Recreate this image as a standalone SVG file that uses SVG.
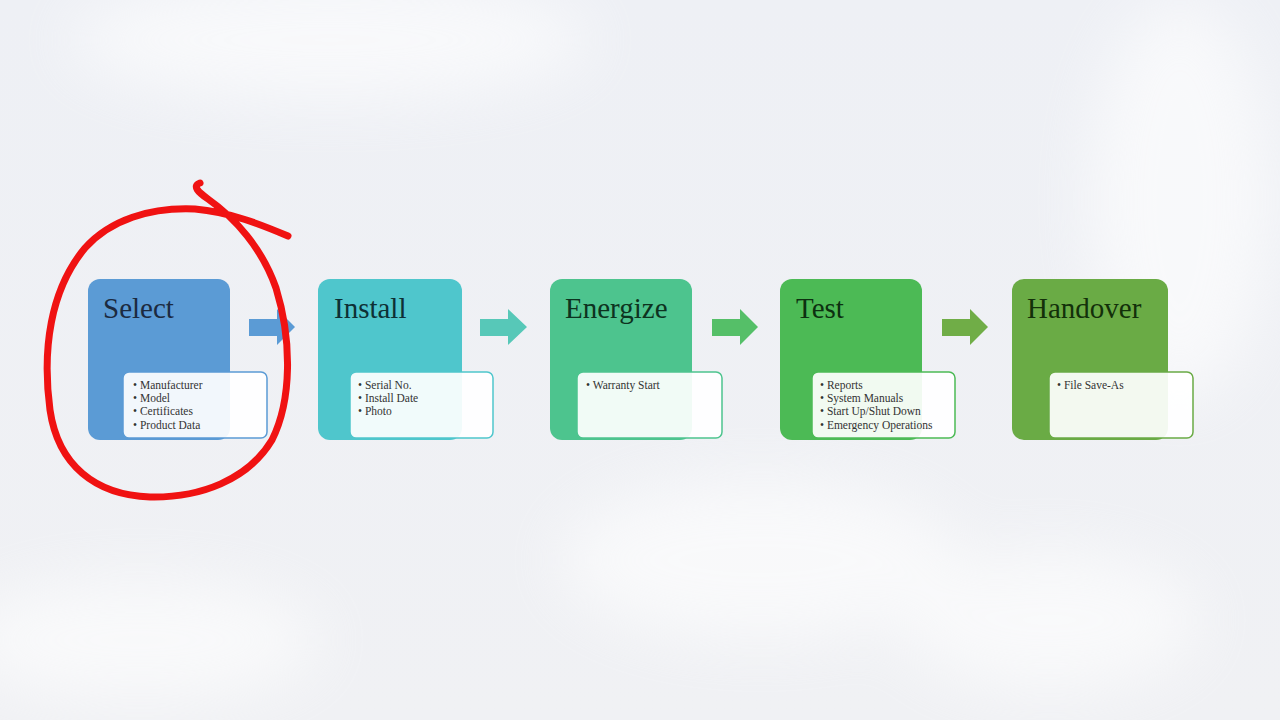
<svg xmlns="http://www.w3.org/2000/svg" width="1280" height="720" viewBox="0 0 1280 720">
<defs>
<linearGradient id="bg" x1="0" y1="0" x2="0" y2="1">
<stop offset="0" stop-color="#eef0f5"/>
<stop offset="1" stop-color="#f0f1f4"/>
</linearGradient>
<filter id="blur" x="-50%" y="-50%" width="200%" height="200%"><feGaussianBlur stdDeviation="30"/></filter>
<style>
.title{font-family:"Liberation Serif","DejaVu Serif",serif;font-size:29px}
.item{font-family:"Liberation Serif","DejaVu Serif",serif;font-size:11.5px;fill:#333}
.tb{fill:#ffffff;fill-opacity:0.92;stroke-width:1.5}
</style>
</defs>
<rect width="1280" height="720" fill="url(#bg)"/>
<g filter="url(#blur)" fill="#ffffff" opacity="0.6">
<ellipse cx="330" cy="40" rx="260" ry="60"/>
<ellipse cx="1180" cy="200" rx="90" ry="200"/>
<ellipse cx="760" cy="560" rx="200" ry="80"/>
<ellipse cx="140" cy="640" rx="180" ry="60"/>
<ellipse cx="1050" cy="620" rx="150" ry="70"/>
</g>
<g id="connectors">
<polygon points="249,319 277,319 277,309 295,327 277,345 277,336 249,336" fill="#5b9bd5"/>
<polygon points="480,319 508,319 508,309 527,327 508,345 508,336 480,336" fill="#57c8b8"/>
<polygon points="712,319 740,319 740,309 758,327 740,345 740,336 712,336" fill="#55bf68"/>
<polygon points="942,319 970,319 970,309 988,327 970,345 970,336 942,336" fill="#70ad47"/>
</g>
<g id="select">
<rect x="88" y="279" width="142" height="161" rx="12" fill="#5b9bd5"/>
<text class="title" x="103" y="318" fill="#1b2a40">Select</text>
<rect class="tb" x="123" y="372" width="144" height="66" rx="6" stroke="#5b9bd5"/>
<text class="item" x="133" y="389">• Manufacturer</text>
<text class="item" x="133" y="402">• Model</text>
<text class="item" x="133" y="415">• Certificates</text>
<text class="item" x="133" y="429">• Product Data</text>
</g>
<g id="install">
<rect x="318" y="279" width="144" height="161" rx="12" fill="#4fc6cc"/>
<text class="title" x="334" y="318" fill="#0e3035">Install</text>
<rect class="tb" x="350" y="372" width="143" height="66" rx="6" stroke="#4fc6cc"/>
<text class="item" x="358" y="389">• Serial No.</text>
<text class="item" x="358" y="402">• Install Date</text>
<text class="item" x="358" y="415">• Photo</text>
</g>
<g id="energize">
<rect x="550" y="279" width="142" height="161" rx="12" fill="#4dc48e"/>
<text class="title" x="565" y="318" fill="#0d3320">Energize</text>
<rect class="tb" x="577" y="372" width="145" height="66" rx="6" stroke="#4dc48e"/>
<text class="item" x="586" y="389">• Warranty Start</text>
</g>
<g id="test">
<rect x="780" y="279" width="142" height="161" rx="12" fill="#4cba55"/>
<text class="title" x="796" y="318" fill="#0d3010">Test</text>
<rect class="tb" x="812" y="372" width="143" height="66" rx="6" stroke="#4cba55"/>
<text class="item" x="820" y="389">• Reports</text>
<text class="item" x="820" y="402">• System Manuals</text>
<text class="item" x="820" y="415">• Start Up/Shut Down</text>
<text class="item" x="820" y="429">• Emergency Operations</text>
</g>
<g id="handover">
<rect x="1012" y="279" width="156" height="161" rx="12" fill="#6aab45"/>
<text class="title" x="1027" y="318" fill="#13300a">Handover</text>
<rect class="tb" x="1049" y="372" width="144" height="66" rx="6" stroke="#6aab45"/>
<text class="item" x="1057" y="389">• File Save-As</text>
</g>
<path id="annotation" d="M 200 183 C 192 186, 198 192, 208 199 C 235 218, 262 248, 276 288 C 292 340, 292 400, 272 440 C 248 480, 200 498, 150 497 C 95 495, 58 465, 50 410 C 42 350, 50 290, 85 248 C 110 220, 150 207, 195 209 C 230 212, 262 225, 288 236" fill="none" stroke="#f01212" stroke-width="7" stroke-linecap="round" stroke-linejoin="round"/>
</svg>
